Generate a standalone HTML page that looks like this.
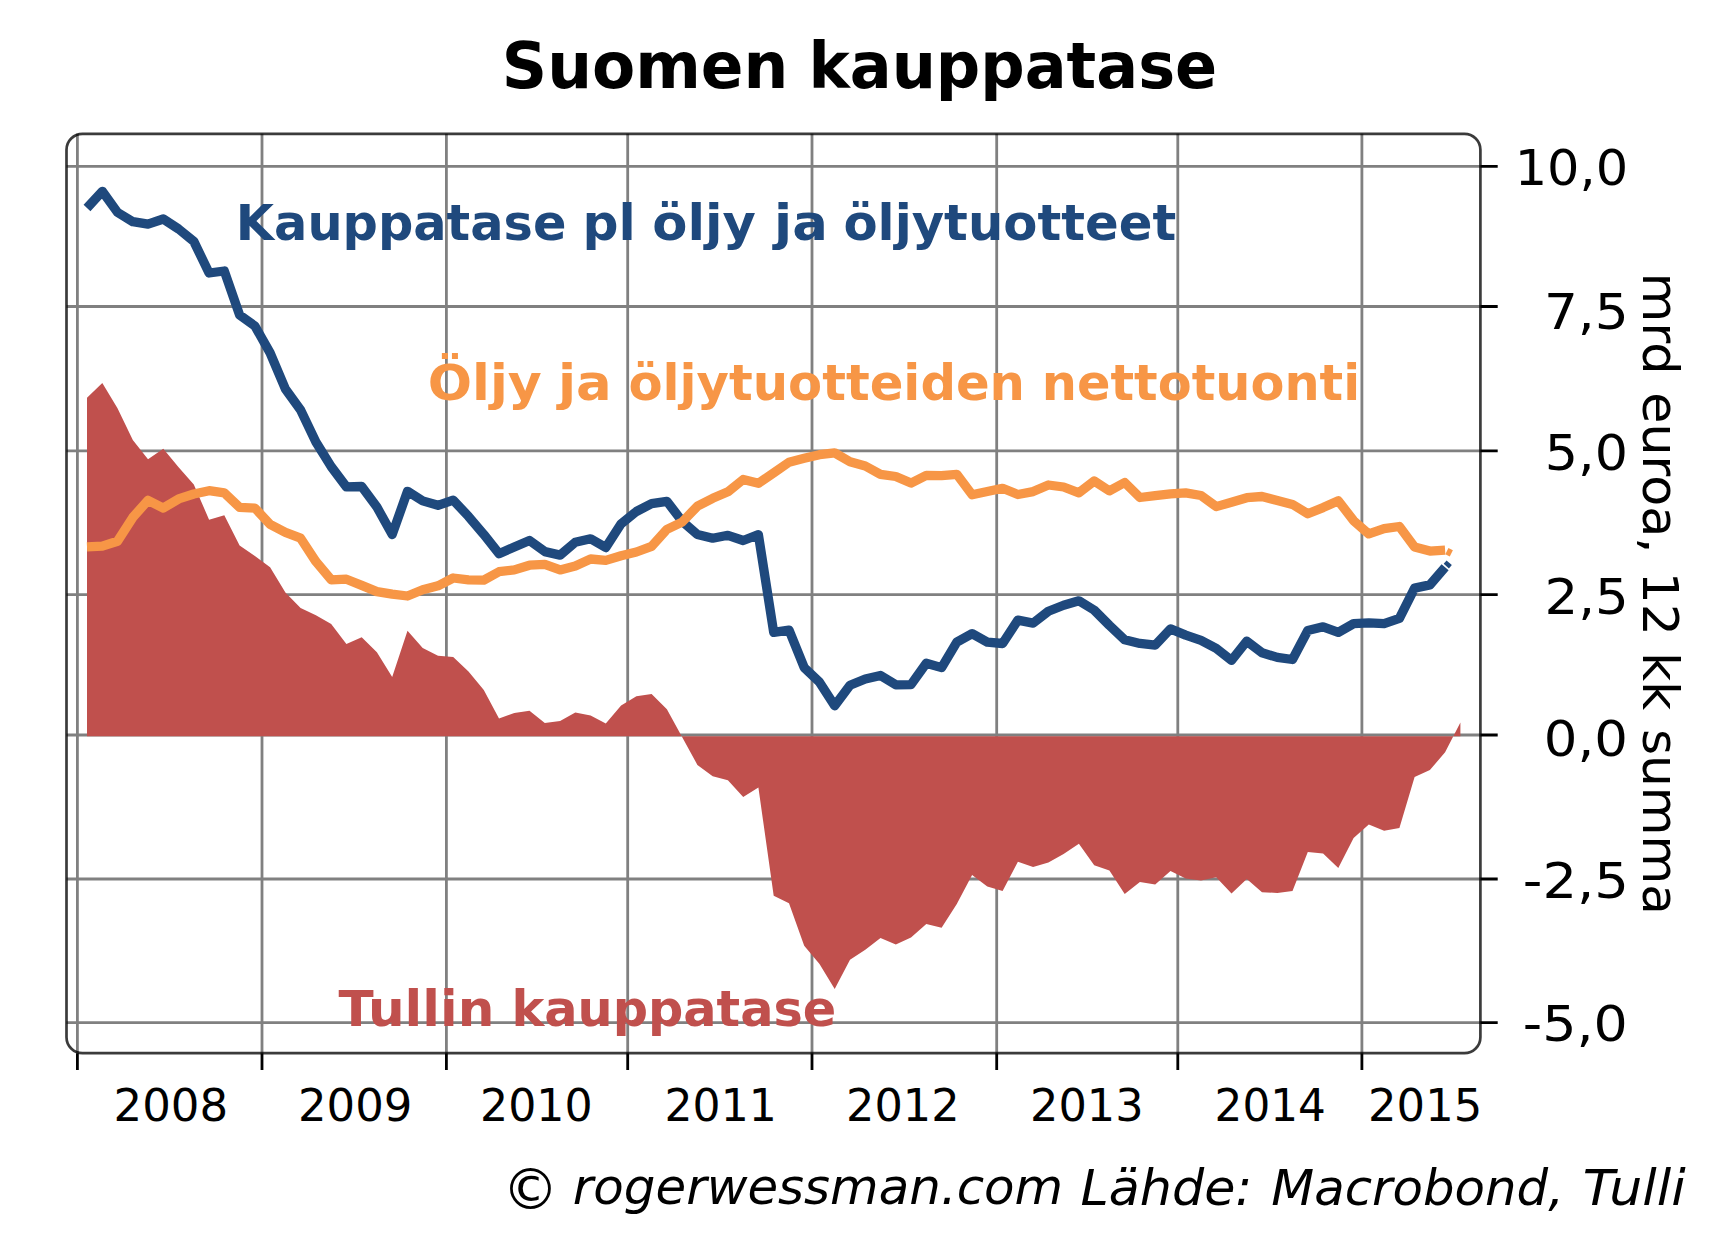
<!DOCTYPE html>
<html lang="fi"><head><meta charset="utf-8"><title>Suomen kauppatase</title>
<style>html,body{margin:0;padding:0;background:#fff}svg{display:block}text{font-family:"DejaVu Sans","Liberation Sans",sans-serif}</style></head><body>
<svg width="1718" height="1250" viewBox="0 0 1718 1250">
<rect width="1718" height="1250" fill="#fff"/>
<path d="M77.4,133.8V1053.2M262,133.8V1053.2M446.4,133.8V1053.2M627.7,133.8V1053.2M812,133.8V1053.2M996.7,133.8V1053.2M1177.8,133.8V1053.2M1361.9,133.8V1053.2M66.5,166.4H1480.4M66.5,306.5H1480.4M66.5,450.8H1480.4M66.5,594.6H1480.4M66.5,735H1480.4M66.5,879H1480.4M66.5,1022.6H1480.4" stroke="#808080" stroke-width="2.8" fill="none"/>
<rect x="66.5" y="133.8" width="1413.9" height="919.4" rx="16" ry="16" fill="none" stroke="#000" stroke-opacity="0.77" stroke-width="2.7"/>
<polygon points="87.0,736.3 87.0,397.7 102.3,383.1 117.5,408.3 132.8,440.0 148.0,459.3 163.3,448.8 178.6,467.3 193.8,484.5 209.1,519.7 224.3,515.3 239.6,545.5 254.9,556.0 270.1,567.3 285.4,592.5 300.6,608.0 315.9,615.3 331.2,624.1 346.4,644.0 361.7,637.3 376.9,652.3 392.2,676.9 407.5,630.8 422.7,647.9 438.0,655.8 453.2,657.0 468.5,671.6 483.8,690.1 499.0,718.6 514.3,712.9 529.5,710.7 544.8,723.0 560.1,720.9 575.3,712.5 590.6,715.5 605.8,723.6 621.1,705.4 636.4,696.3 651.6,694.0 666.9,709.3 682.1,737.1 697.4,764.9 712.7,776.2 727.9,780.2 743.2,796.9 758.4,787.5 773.7,895.8 789.0,903.2 804.2,945.8 819.5,963.9 834.7,989.0 850.0,959.8 865.3,949.8 880.5,938.0 895.8,944.5 911.0,937.5 926.3,923.9 941.6,927.8 956.8,904.1 972.1,875.0 987.3,886.5 1002.6,890.9 1017.9,861.8 1033.1,867.0 1048.4,862.6 1063.6,854.1 1078.9,843.7 1094.2,865.2 1109.4,870.4 1124.7,893.9 1139.9,881.9 1155.2,884.5 1170.5,871.0 1185.7,878.4 1201.0,880.5 1216.2,877.2 1231.5,893.5 1246.8,879.1 1262.0,892.3 1277.3,892.9 1292.5,891.0 1307.8,852.1 1323.1,853.6 1338.3,868.0 1353.6,838.1 1368.8,824.4 1384.1,830.7 1399.4,827.9 1414.6,776.9 1429.9,770.0 1445.1,752.3 1460.4,722.5 1460.4,736.3" fill="#C0504D"/>
<text id="lab1" font-size="49.30" font-weight="bold" fill="#1F497D"><tspan id="a0" x="235.83" y="240.20" textLength="330.57" lengthAdjust="spacingAndGlyphs">Kauppatase</tspan> <tspan id="a1" x="582.49" y="240.20" textLength="53.27" lengthAdjust="spacingAndGlyphs">pl</tspan> <tspan id="a2" x="652.39" y="240.20" textLength="103.62" lengthAdjust="spacingAndGlyphs">öljy</tspan> <tspan id="a3" x="774.04" y="240.20" textLength="53.73" lengthAdjust="spacingAndGlyphs">ja</tspan> <tspan id="a4" x="843.44" y="240.20" textLength="332.77" lengthAdjust="spacingAndGlyphs">öljytuotteet</tspan></text>
<text id="lab2" font-size="49.30" font-weight="bold" fill="#F79646"><tspan id="b0" x="427.75" y="399.70" textLength="114.07" lengthAdjust="spacingAndGlyphs">Öljy</tspan> <tspan id="b1" x="558.02" y="399.70" textLength="53.77" lengthAdjust="spacingAndGlyphs">ja</tspan> <tspan id="b2" x="628.44" y="399.70" textLength="396.53" lengthAdjust="spacingAndGlyphs">öljytuotteiden</tspan> <tspan id="b3" x="1041.81" y="399.70" textLength="318.33" lengthAdjust="spacingAndGlyphs">nettotuonti</tspan></text>
<text id="lab3" font-size="49.30" font-weight="bold" fill="#C0504D"><tspan id="c0" x="338.40" y="1026.10" textLength="155.98" lengthAdjust="spacingAndGlyphs">Tullin</tspan> <tspan id="c1" x="511.45" y="1026.10" textLength="324.87" lengthAdjust="spacingAndGlyphs">kauppatase</tspan></text>
<polyline points="87.0,208.0 102.3,191.3 117.5,212.4 132.8,221.7 148.0,224.2 163.3,219.0 178.6,229.0 193.8,241.4 209.1,273.0 224.3,271.0 239.6,315.0 254.9,326.0 270.1,352.9 285.4,389.0 300.6,410.0 315.9,442.0 331.2,466.6 346.4,486.9 361.7,486.5 376.9,507.1 392.2,534.5 407.5,491.3 422.7,500.9 438.0,505.3 453.2,500.1 468.5,516.4 483.8,534.4 499.0,553.7 514.3,547.0 529.5,540.5 544.8,551.6 560.1,555.1 575.3,542.3 590.6,538.8 605.8,547.6 621.1,523.8 636.4,511.5 651.6,503.6 666.9,501.3 682.1,521.2 697.4,534.4 712.7,538.2 727.9,535.3 743.2,540.5 758.4,534.7 773.7,632.4 789.0,630.1 804.2,667.6 819.5,682.2 834.7,705.8 850.0,685.2 865.3,679.0 880.5,675.5 895.8,684.8 911.0,684.6 926.3,663.2 941.6,667.6 956.8,642.1 972.1,633.6 987.3,642.1 1002.6,643.5 1017.9,620.1 1033.1,623.1 1048.4,611.3 1063.6,605.2 1078.9,600.8 1094.2,610.1 1109.4,625.4 1124.7,639.8 1139.9,643.4 1155.2,645.1 1170.5,628.9 1185.7,635.1 1201.0,640.4 1216.2,648.3 1231.5,660.4 1246.8,641.2 1262.0,652.7 1277.3,657.4 1292.5,659.5 1307.8,630.5 1323.1,626.8 1338.3,632.4 1353.6,623.6 1368.8,622.8 1384.1,623.6 1399.4,618.4 1414.6,588.1 1429.9,584.9 1445.1,567.3" fill="none" stroke="#1F497D" stroke-width="9.3" stroke-linejoin="round"/>
<polyline points="1446.3,566.1 1449.2,562.8" fill="none" stroke="#1F497D" stroke-width="7"/>
<polyline points="87.0,546.8 102.3,546.1 117.5,541.2 132.8,517.4 148.0,500.3 163.3,508.1 178.6,498.9 193.8,494.0 209.1,490.7 224.3,492.8 239.6,507.4 254.9,508.1 270.1,524.4 285.4,532.4 300.6,538.2 315.9,561.6 331.2,579.8 346.4,579.2 361.7,585.4 376.9,591.6 392.2,594.2 407.5,596.0 422.7,589.8 438.0,585.8 453.2,578.0 468.5,579.8 483.8,580.1 499.0,571.7 514.3,569.9 529.5,565.2 544.8,564.3 560.1,569.9 575.3,566.0 590.6,559.0 605.8,560.4 621.1,555.8 636.4,552.0 651.6,546.3 666.9,529.4 682.1,522.1 697.4,506.2 712.7,498.3 727.9,491.8 743.2,479.5 758.4,483.3 773.7,472.8 789.0,462.2 804.2,458.3 819.5,454.7 834.7,452.9 850.0,461.7 865.3,466.0 880.5,474.3 895.8,476.5 911.0,483.1 926.3,475.3 941.6,475.7 956.8,474.3 972.1,494.7 987.3,491.5 1002.6,488.3 1017.9,494.5 1033.1,491.6 1048.4,485.0 1063.6,487.0 1078.9,492.8 1094.2,481.0 1109.4,490.8 1124.7,482.5 1139.9,497.5 1155.2,495.7 1170.5,493.8 1185.7,492.9 1201.0,495.5 1216.2,506.6 1231.5,502.2 1246.8,497.7 1262.0,496.5 1277.3,500.5 1292.5,504.4 1307.8,513.7 1323.1,507.6 1338.3,500.8 1353.6,520.7 1368.8,533.9 1384.1,528.6 1399.4,526.5 1414.6,547.1 1429.9,551.1 1445.1,550.1" fill="none" stroke="#F79646" stroke-width="9.3" stroke-linejoin="round"/>
<polyline points="1446.9,551.2 1451.3,553.4" fill="none" stroke="#F79646" stroke-width="7"/>
<path d="M1480.4,166.4H1497.7M1480.4,306.5H1497.7M1480.4,450.8H1497.7M1480.4,594.6H1497.7M1480.4,735H1497.7M1480.4,879H1497.7M1480.4,1022.6H1497.7M77.4,1053.2V1070M262,1053.2V1070M446.4,1053.2V1070M627.7,1053.2V1070M812,1053.2V1070M996.7,1053.2V1070M1177.8,1053.2V1070M1361.9,1053.2V1070" stroke="#000" stroke-width="2.8" fill="none"/>
<text id="footer" font-size="50.00" font-style="italic" fill="#000"><tspan id="f0" x="502.20" y="1209.00" font-size="56.36">©</tspan> <tspan id="f1" x="572.80" y="1204.37" textLength="490.39" lengthAdjust="spacingAndGlyphs">rogerwessman.com</tspan> <tspan id="f2" x="1080.58" y="1205.00" textLength="171.79" lengthAdjust="spacingAndGlyphs">Lähde:</tspan> <tspan id="f3" x="1271.37" y="1205.00" textLength="292.59" lengthAdjust="spacingAndGlyphs">Macrobond,</tspan> <tspan id="f4" x="1582.71" y="1205.00" textLength="103.15" lengthAdjust="spacingAndGlyphs">Tulli</tspan></text>
<text id="y0" x="1514.66" y="184.66" font-size="50.00" textLength="113.60" lengthAdjust="spacingAndGlyphs" fill="#000">10,0</text>
<text id="y1" x="1543.93" y="329.22" font-size="50.00" textLength="84.80" lengthAdjust="spacingAndGlyphs" fill="#000">7,5</text>
<text id="y2" x="1544.84" y="469.64" font-size="50.00" textLength="83.15" lengthAdjust="spacingAndGlyphs" fill="#000">5,0</text>
<text id="y3" x="1544.57" y="613.86" font-size="50.00" textLength="84.27" lengthAdjust="spacingAndGlyphs" fill="#000">2,5</text>
<text id="y4" x="1543.78" y="755.91" font-size="50.00" textLength="84.22" lengthAdjust="spacingAndGlyphs" fill="#000">0,0</text>
<text id="y5" x="1522.77" y="897.66" font-size="50.00" textLength="106.21" lengthAdjust="spacingAndGlyphs" fill="#000">-2,5</text>
<text id="y6" x="1522.79" y="1041.26" font-size="50.00" textLength="105.12" lengthAdjust="spacingAndGlyphs" fill="#000">-5,0</text>
<text id="x0" x="113.50" y="1120.66" font-size="44.60" textLength="114.66" lengthAdjust="spacingAndGlyphs" fill="#000">2008</text>
<text id="x1" x="298.03" y="1121.38" font-size="44.60" textLength="114.41" lengthAdjust="spacingAndGlyphs" fill="#000">2009</text>
<text id="x2" x="480.07" y="1121.38" font-size="44.60" textLength="112.62" lengthAdjust="spacingAndGlyphs" fill="#000">2010</text>
<text id="x3" x="664.58" y="1121.38" font-size="44.60" textLength="112.19" lengthAdjust="spacingAndGlyphs" fill="#000">2011</text>
<text id="x4" x="846.06" y="1121.38" font-size="44.60" textLength="113.58" lengthAdjust="spacingAndGlyphs" fill="#000">2012</text>
<text id="x5" x="1030.07" y="1121.38" font-size="44.60" textLength="113.58" lengthAdjust="spacingAndGlyphs" fill="#000">2013</text>
<text id="x6" x="1214.62" y="1121.38" font-size="44.60" textLength="111.24" lengthAdjust="spacingAndGlyphs" fill="#000">2014</text>
<text id="x7" x="1368.05" y="1121.38" font-size="44.60" textLength="114.20" lengthAdjust="spacingAndGlyphs" fill="#000">2015</text>
<text id="axis" font-size="50.30" fill="#000" transform="translate(1643.35,0) rotate(90)"><tspan id="r0" x="272.45" y="0" textLength="102.36" lengthAdjust="spacingAndGlyphs">mrd</tspan> <tspan id="r1" x="392.37" y="0" textLength="161.02" lengthAdjust="spacingAndGlyphs">euroa,</tspan> <tspan id="r2" x="571.78" y="0" textLength="64.02" lengthAdjust="spacingAndGlyphs">12</tspan> <tspan id="r3" x="652.37" y="0" textLength="58.03" lengthAdjust="spacingAndGlyphs">kk</tspan> <tspan id="r4" x="728.88" y="0" textLength="186.00" lengthAdjust="spacingAndGlyphs">summa</tspan></text>
<text id="title" font-size="64.70" font-weight="bold" fill="#000"><tspan id="t0" x="501.77" y="87.70" textLength="286.66" lengthAdjust="spacingAndGlyphs">Suomen</tspan> <tspan id="t1" x="808.46" y="87.70" textLength="408.78" lengthAdjust="spacingAndGlyphs">kauppatase</tspan></text>
</svg></body></html>
